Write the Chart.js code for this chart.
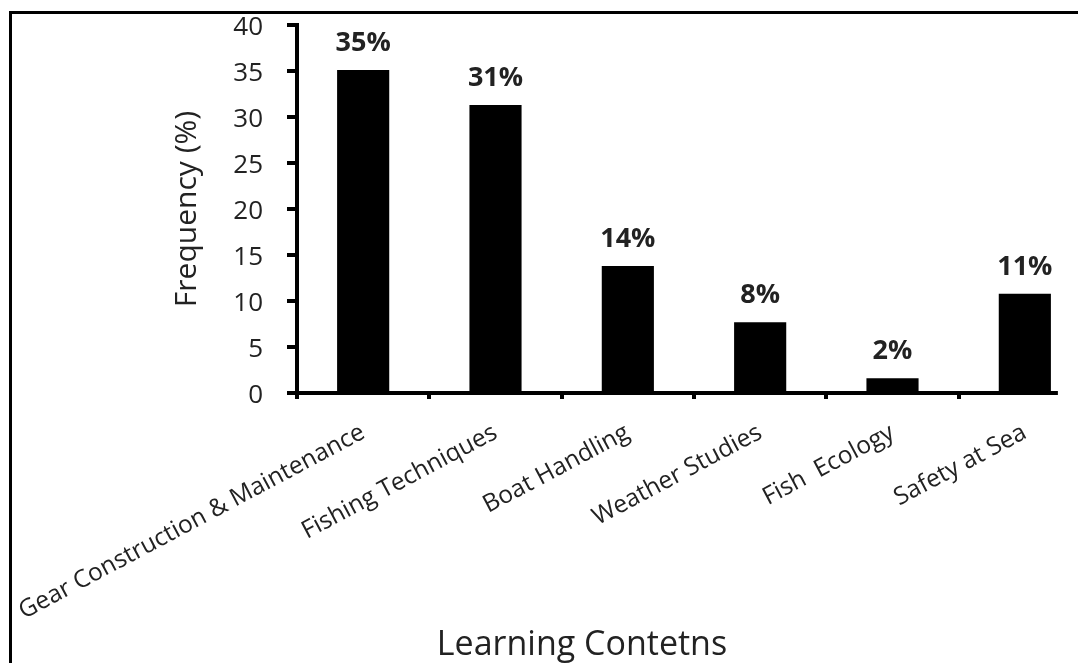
<!DOCTYPE html>
<html>
<head>
<meta charset="utf-8">
<script src="https://cdn.jsdelivr.net/npm/chart.js@4/dist/chart.umd.min.js"></script>
<style>
  html, body { margin: 0; padding: 0; background: #fff; overflow: hidden; }
  #wrap { position: relative; width: 1078px; height: 663px; overflow: hidden; }
  #grafico { position: absolute; left: 0; top: 0; }
  #marco {
    position: absolute; left: 9px; top: 11px; right: 0; bottom: 0;
    border-top: 3px solid #000; border-left: 3px solid #000;
    pointer-events: none;
  }
</style>
</head>
<body>
<div id="wrap">
  <!-- el lienzo es algo mas ancho que la ventana: la figura original esta recortada a la derecha -->
  <canvas id="grafico" width="1091" height="663"></canvas>
  <div id="marco"></div>
</div>
<script>
// Datos
const categorias = [
  "Gear Construction & Maintenance",
  "Fishing Techniques",
  "Boat Handling",
  "Weather Studies",
  "Fish  Ecology",
  "Safety at Sea"
];
const frecuencias = [35.1, 31.3, 13.8, 7.7, 1.6, 10.8];
const ticksY = [0, 5, 10, 15, 20, 25, 30, 35, 40];

const fuente = "'Open Sans', 'Liberation Sans', sans-serif";
const colorTexto = "#222";

// Etiquetas de porcentaje encima de cada barra + eje X recortado + titulo X
const extras = {
  id: "extras",
  afterDatasetsDraw(chart) {
    const ctx = chart.ctx;
    const meta = chart.getDatasetMeta(0);
    const y = chart.scales.y;
    const area = chart.chartArea;

    ctx.save();
    // eje x
    const y0 = y.getPixelForValue(0);
    const ultima = meta.data[meta.data.length - 1];
    ctx.strokeStyle = "#000";
    ctx.lineWidth = 4;
    ctx.beginPath();
    ctx.moveTo(area.left - 10, y0);
    ctx.lineTo(ultima.x + ultima.width / 2 + 7, y0);
    ctx.stroke();

    // porcentajes
    ctx.fillStyle = colorTexto;
    ctx.font = "bold 27px " + fuente;
    ctx.textAlign = "center";
    ctx.textBaseline = "alphabetic";
    meta.data.forEach((barra, i) => {
      ctx.fillText(Math.round(frecuencias[i]) + "%", barra.x, barra.y - 19);
    });

    // titulo del eje x
    ctx.font = "34px " + fuente;
    ctx.fillText("Learning Contetns", 582, 655);
    ctx.restore();
  }
};

const ctx = document.getElementById("grafico").getContext("2d");

new Chart(ctx, {
  type: "bar",
  data: {
    labels: categorias,
    datasets: [{
      data: frecuencias,
      backgroundColor: "#000",
      borderWidth: 0,
      barPercentage: 0.394,
      categoryPercentage: 1
    }]
  },
  options: {
    responsive: false,
    animation: false,
    events: [],
    layout: { padding: { top: 25, right: 0, bottom: 0, left: 0 } },
    plugins: {
      legend: { display: false },
      tooltip: { enabled: false }
    },
    scales: {
      x: {
        grid: {
          display: true,
          drawOnChartArea: false,
          drawTicks: true,
          tickLength: 6,
          color: "#000",
          lineWidth: 4
        },
        border: { display: false },
        ticks: {
          color: colorTexto,
          font: { family: fuente, size: 24.5 },
          minRotation: 28,
          maxRotation: 28,
          padding: 19,
          autoSkip: false
        },
        afterFit(scale) {
          scale.height = 270;
          scale.paddingLeft = 0;
          scale.paddingRight = 0;
        }
      },
      y: {
        min: 0,
        max: 40,
        afterBuildTicks(scale) {
          scale.ticks = ticksY.map(v => ({ value: v }));
        },
        grid: {
          display: true,
          drawOnChartArea: false,
          drawTicks: true,
          tickLength: 10,
          color: "#000",
          lineWidth: 4
        },
        border: { display: true, color: "#000", width: 4 },
        ticks: {
          color: colorTexto,
          font: { family: fuente, size: 26 },
          padding: 24,
          labelOffset: 3
        },
        title: {
          display: true,
          text: "Frequency (%)",
          color: colorTexto,
          font: { family: fuente, size: 30 },
          padding: { top: 169, bottom: 0 }
        },
        afterFit(scale) {
          scale.width = 297;
          scale.paddingTop = 0;
          scale.paddingBottom = 0;
        }
      }
    }
  },
  plugins: [extras]
});
</script>
</body>
</html>
